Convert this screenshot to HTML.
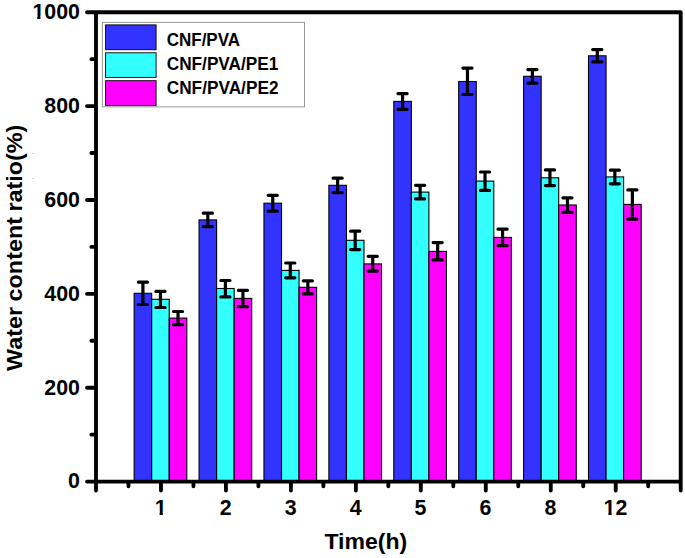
<!DOCTYPE html>
<html lang="en"><head><meta charset="utf-8"><title>Water content ratio vs Time</title>
<style>html,body{margin:0;padding:0;background:#fff;}svg{display:block;}text{font-family:"Liberation Sans",sans-serif;font-weight:bold;fill:#000;}</style>
</head><body>
<svg width="685" height="558" viewBox="0 0 685 558">
<rect width="685" height="558" fill="#fff"/>
<g stroke="#000" stroke-width="1.1">
<rect x="134.14" y="293.30" width="17.55" height="188.30" fill="#3333ff"/>
<rect x="151.69" y="299.30" width="17.55" height="182.30" fill="#33ffff"/>
<rect x="169.24" y="318.10" width="17.55" height="163.50" fill="#ff00ff"/>
<rect x="199.06" y="219.90" width="17.55" height="261.70" fill="#3333ff"/>
<rect x="216.61" y="288.50" width="17.55" height="193.10" fill="#33ffff"/>
<rect x="234.16" y="298.40" width="17.55" height="183.20" fill="#ff00ff"/>
<rect x="263.96" y="203.20" width="17.55" height="278.40" fill="#3333ff"/>
<rect x="281.51" y="270.40" width="17.55" height="211.20" fill="#33ffff"/>
<rect x="299.06" y="287.30" width="17.55" height="194.30" fill="#ff00ff"/>
<rect x="328.88" y="185.30" width="17.55" height="296.30" fill="#3333ff"/>
<rect x="346.43" y="240.30" width="17.55" height="241.30" fill="#33ffff"/>
<rect x="363.98" y="263.90" width="17.55" height="217.70" fill="#ff00ff"/>
<rect x="393.79" y="101.40" width="17.55" height="380.20" fill="#3333ff"/>
<rect x="411.34" y="192.10" width="17.55" height="289.50" fill="#33ffff"/>
<rect x="428.89" y="251.40" width="17.55" height="230.20" fill="#ff00ff"/>
<rect x="458.69" y="81.50" width="17.55" height="400.10" fill="#3333ff"/>
<rect x="476.25" y="181.10" width="17.55" height="300.50" fill="#33ffff"/>
<rect x="493.80" y="237.40" width="17.55" height="244.20" fill="#ff00ff"/>
<rect x="523.60" y="76.30" width="17.55" height="405.30" fill="#3333ff"/>
<rect x="541.15" y="177.80" width="17.55" height="303.80" fill="#33ffff"/>
<rect x="558.70" y="205.00" width="17.55" height="276.60" fill="#ff00ff"/>
<rect x="588.51" y="55.80" width="17.55" height="425.80" fill="#3333ff"/>
<rect x="606.06" y="176.90" width="17.55" height="304.70" fill="#33ffff"/>
<rect x="623.62" y="204.40" width="17.55" height="277.20" fill="#ff00ff"/>
</g>
<g stroke="#000" stroke-linecap="round" fill="none">
<path d="M142.92 282.20V304.50" stroke-width="3.2" stroke-linecap="butt"/>
<path d="M138.37 282.20H147.47M138.37 304.50H147.47" stroke-width="3.2"/>
<path d="M160.47 291.40V307.50" stroke-width="3.2" stroke-linecap="butt"/>
<path d="M155.92 291.40H165.02M155.92 307.50H165.02" stroke-width="3.2"/>
<path d="M178.02 311.50V324.70" stroke-width="3.2" stroke-linecap="butt"/>
<path d="M173.47 311.50H182.57M173.47 324.70H182.57" stroke-width="3.2"/>
<path d="M207.83 213.20V226.70" stroke-width="3.2" stroke-linecap="butt"/>
<path d="M203.28 213.20H212.38M203.28 226.70H212.38" stroke-width="3.2"/>
<path d="M225.38 280.50V296.90" stroke-width="3.2" stroke-linecap="butt"/>
<path d="M220.83 280.50H229.93M220.83 296.90H229.93" stroke-width="3.2"/>
<path d="M242.93 290.30V306.70" stroke-width="3.2" stroke-linecap="butt"/>
<path d="M238.38 290.30H247.48M238.38 306.70H247.48" stroke-width="3.2"/>
<path d="M272.74 195.30V211.20" stroke-width="3.2" stroke-linecap="butt"/>
<path d="M268.19 195.30H277.29M268.19 211.20H277.29" stroke-width="3.2"/>
<path d="M290.29 263.00V277.80" stroke-width="3.2" stroke-linecap="butt"/>
<path d="M285.74 263.00H294.84M285.74 277.80H294.84" stroke-width="3.2"/>
<path d="M307.84 280.80V293.80" stroke-width="3.2" stroke-linecap="butt"/>
<path d="M303.29 280.80H312.39M303.29 293.80H312.39" stroke-width="3.2"/>
<path d="M337.65 178.20V192.60" stroke-width="3.2" stroke-linecap="butt"/>
<path d="M333.10 178.20H342.20M333.10 192.60H342.20" stroke-width="3.2"/>
<path d="M355.20 231.20V249.60" stroke-width="3.2" stroke-linecap="butt"/>
<path d="M350.65 231.20H359.75M350.65 249.60H359.75" stroke-width="3.2"/>
<path d="M372.75 256.30V271.10" stroke-width="3.2" stroke-linecap="butt"/>
<path d="M368.20 256.30H377.30M368.20 271.10H377.30" stroke-width="3.2"/>
<path d="M402.56 93.70V109.30" stroke-width="3.2" stroke-linecap="butt"/>
<path d="M398.01 93.70H407.11M398.01 109.30H407.11" stroke-width="3.2"/>
<path d="M420.11 185.30V198.80" stroke-width="3.2" stroke-linecap="butt"/>
<path d="M415.56 185.30H424.66M415.56 198.80H424.66" stroke-width="3.2"/>
<path d="M437.66 242.60V259.90" stroke-width="3.2" stroke-linecap="butt"/>
<path d="M433.11 242.60H442.21M433.11 259.90H442.21" stroke-width="3.2"/>
<path d="M467.47 68.10V94.50" stroke-width="3.2" stroke-linecap="butt"/>
<path d="M462.92 68.10H472.02M462.92 94.50H472.02" stroke-width="3.2"/>
<path d="M485.02 172.00V190.40" stroke-width="3.2" stroke-linecap="butt"/>
<path d="M480.47 172.00H489.57M480.47 190.40H489.57" stroke-width="3.2"/>
<path d="M502.57 229.20V245.70" stroke-width="3.2" stroke-linecap="butt"/>
<path d="M498.02 229.20H507.12M498.02 245.70H507.12" stroke-width="3.2"/>
<path d="M532.38 69.60V83.20" stroke-width="3.2" stroke-linecap="butt"/>
<path d="M527.83 69.60H536.93M527.83 83.20H536.93" stroke-width="3.2"/>
<path d="M549.93 169.90V185.60" stroke-width="3.2" stroke-linecap="butt"/>
<path d="M545.38 169.90H554.48M545.38 185.60H554.48" stroke-width="3.2"/>
<path d="M567.48 197.80V212.40" stroke-width="3.2" stroke-linecap="butt"/>
<path d="M562.93 197.80H572.03M562.93 212.40H572.03" stroke-width="3.2"/>
<path d="M597.29 49.60V61.90" stroke-width="3.2" stroke-linecap="butt"/>
<path d="M592.74 49.60H601.84M592.74 61.90H601.84" stroke-width="3.2"/>
<path d="M614.84 170.20V183.80" stroke-width="3.2" stroke-linecap="butt"/>
<path d="M610.29 170.20H619.39M610.29 183.80H619.39" stroke-width="3.2"/>
<path d="M632.39 189.90V219.10" stroke-width="3.2" stroke-linecap="butt"/>
<path d="M627.84 189.90H636.94M627.84 219.10H636.94" stroke-width="3.2"/>
</g>
<g stroke="#000" stroke-width="3.85" stroke-linecap="round" fill="none">
<path stroke-linejoin="round" d="M96.0 12.2H680.7V481.6H96.0ZM96.0 481.60H87.00M96.0 434.66H91.40M96.0 387.72H87.00M96.0 340.78H91.40M96.0 293.84H87.00M96.0 246.90H91.40M96.0 199.96H87.00M96.0 153.02H91.40M96.0 106.08H87.00M96.0 59.14H91.40M96.0 12.20H87.00M96.00 481.6V490.60M128.48 481.6V486.20M160.97 481.6V490.60M193.45 481.6V486.20M225.93 481.6V490.60M258.42 481.6V486.20M290.90 481.6V490.60M323.38 481.6V486.20M355.87 481.6V490.60M388.35 481.6V486.20M420.83 481.6V490.60M453.32 481.6V486.20M485.80 481.6V490.60M518.28 481.6V486.20M550.77 481.6V490.60M583.25 481.6V486.20M615.73 481.6V490.60M648.22 481.6V486.20M680.70 481.6V490.60"/>
</g>
<g font-size="22.2" text-anchor="end">
<g transform="translate(79.9 488.40) scale(0.962 1)"><text>0</text></g>
<g transform="translate(79.9 394.52) scale(0.962 1)"><text>200</text></g>
<g transform="translate(79.9 300.64) scale(0.962 1)"><text>400</text></g>
<g transform="translate(79.9 206.76) scale(0.962 1)"><text>600</text></g>
<g transform="translate(79.9 112.88) scale(0.962 1)"><text>800</text></g>
<g transform="translate(79.9 19.00) scale(0.962 1)"><text>1000</text><rect x="-49.19" y="-3.1" width="4.82" height="4" fill="#fff"/><rect x="-40.99" y="-3.1" width="4.4" height="4" fill="#fff"/></g>
</g>
<g font-size="22.2" text-anchor="middle">
<g transform="translate(160.67 514.6) scale(0.962 1)"><text>1</text><rect x="-5.97" y="-3.1" width="4.82" height="4" fill="#fff"/><rect x="2.23" y="-3.1" width="4.4" height="4" fill="#fff"/></g>
<g transform="translate(225.63 514.6) scale(0.962 1)"><text>2</text></g>
<g transform="translate(290.60 514.6) scale(0.962 1)"><text>3</text></g>
<g transform="translate(355.57 514.6) scale(0.962 1)"><text>4</text></g>
<g transform="translate(420.53 514.6) scale(0.962 1)"><text>5</text></g>
<g transform="translate(485.50 514.6) scale(0.962 1)"><text>6</text></g>
<g transform="translate(550.47 514.6) scale(0.962 1)"><text>8</text></g>
<g transform="translate(615.43 514.6) scale(0.962 1)"><text>12</text><rect x="-12.15" y="-3.1" width="4.82" height="4" fill="#fff"/><rect x="-3.95" y="-3.1" width="4.4" height="4" fill="#fff"/></g>
</g>
<text x="324.4" y="548.9" font-size="22.4" textLength="82.8" lengthAdjust="spacingAndGlyphs">Time(h)</text>
<text transform="translate(21.8 370.9) rotate(-90)" font-size="22.8" word-spacing="-1" textLength="246.3" lengthAdjust="spacingAndGlyphs">Water content ratio(%)</text>
<rect x="102.3" y="22.3" width="202.2" height="84.6" fill="#fff" stroke="#7f7f7f" stroke-width="0.8"/>
<g stroke="#000" stroke-width="0.9">
<rect x="105.6" y="24.9" width="50.5" height="24.80" fill="#3333ff"/>
<rect x="105.6" y="52.8" width="50.5" height="24.60" fill="#33ffff"/>
<rect x="105.6" y="80.7" width="50.5" height="24.90" fill="#ff00ff"/>
</g>
<g font-size="17.8">
<text x="166.7" y="46.0" textLength="73.4" lengthAdjust="spacingAndGlyphs">CNF/PVA</text>
<text x="166.7" y="69.8" textLength="111.7" lengthAdjust="spacingAndGlyphs">CNF/PVA/PE1</text>
<text x="166.7" y="93.5" textLength="111.8" lengthAdjust="spacingAndGlyphs">CNF/PVA/PE2</text>
</g>
<circle cx="33.1" cy="153.5" r="0.7" fill="#b4b4b4"/><circle cx="33.1" cy="178.5" r="0.7" fill="#b4b4b4"/>
</svg></body></html>
